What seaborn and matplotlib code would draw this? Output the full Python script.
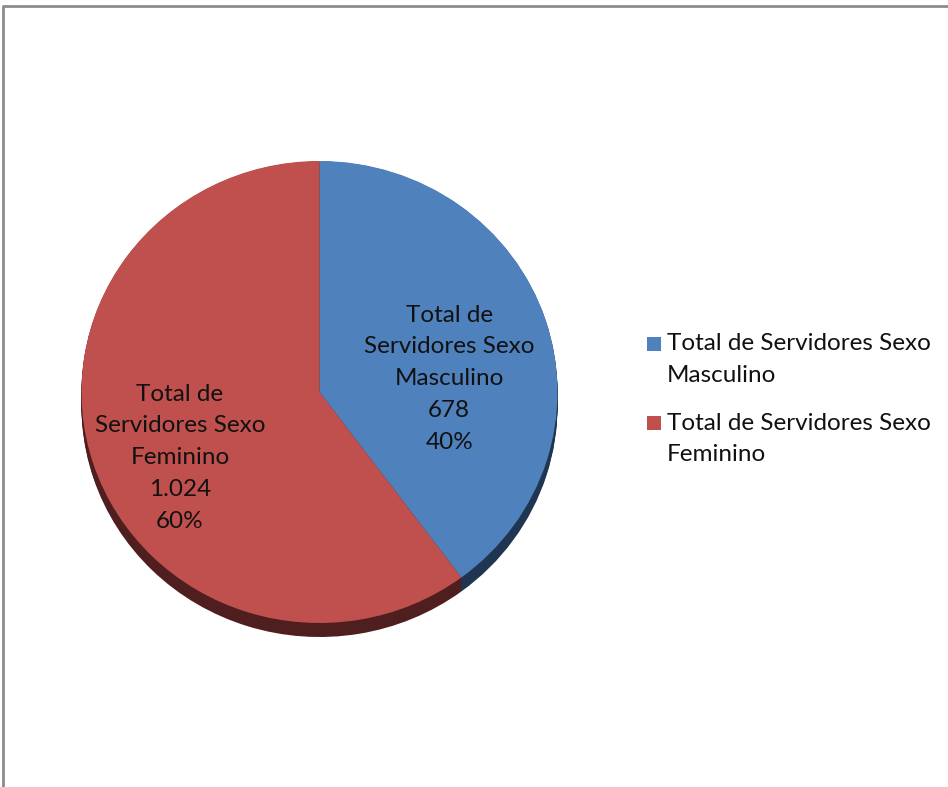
import numpy as np
import seaborn as sns
import matplotlib.pyplot as plt
from matplotlib.patches import Rectangle

# data
categories = ["Total de Servidores Sexo Masculino", "Total de Servidores Sexo Feminino"]
slice_labels = ["Total de\nServidores Sexo\nMasculino", "Total de\nServidores Sexo\nFeminino"]
values = [678, 1024]
value_text = ["678", "1.024"]

sns.set_theme(style="white")
plt.rcParams['font.family'] = ['Lato', 'DejaVu Sans']

top_colors = ["#4F81BD", "#C0504D"]
side_colors = ["#1F3551", "#4E1F1E"]

W, H = 948, 787
fig = plt.figure(figsize=(W / 100, H / 100), dpi=100)

# background axes in pixel units (frame + legend)
bg = fig.add_axes([0, 0, 1, 1])
bg.set_xlim(0, W)
bg.set_ylim(H, 0)
bg.axis("off")
bg.plot([3, 3, W], [H, 6, 6], color="#8c8c8c", lw=2, solid_capstyle="butt")

# pie axes: horizontal radius 238 px, vertical 231 px, depth 14 px
x0, x1, ytop, ybot = 81.5, 557.5, 161, 637
depth = 14 / 231
ax = fig.add_axes([x0 / W, 1 - ybot / H, (x1 - x0) / W, (ybot - ytop) / H])

# extruded side, stacked layers
for d in np.linspace(depth, 0.002, 12):
    ax.pie(values, colors=side_colors, startangle=90, counterclock=False,
           center=(0, -d), radius=1, wedgeprops=dict(linewidth=0))
wedges, _ = ax.pie(values, colors=top_colors, startangle=90, counterclock=False,
                   center=(0, 0), radius=1, wedgeprops=dict(linewidth=0))
ax.set_aspect("auto")
ax.set_xlim(-1, 1)
ax.set_ylim(-1 - depth, 1)
ax.axis("off")

# slice labels
total = sum(values)
label_pos = [(0.545, 0.058), (-0.586, -0.284)]
for i, (lx, ly) in enumerate(label_pos):
    pct = round(100 * values[i] / total)
    ax.text(lx, ly, f"{slice_labels[i]}\n{value_text[i]}\n{pct}%", ha="center", va="center",
            fontsize=17.5, color="#111111", linespacing=1.63)

# legend
leg_y = [336.5, 416]
for i, name in enumerate(categories):
    bg.add_patch(Rectangle((647, leg_y[i]), 14, 14, color=top_colors[i], lw=0))
    bg.text(667, leg_y[i] + 23, name.replace("Sexo ", "Sexo\n"), ha="left", va="center",
            fontsize=17.5, color="#111111", linespacing=1.63)

fig.savefig("out.png", dpi=100)
